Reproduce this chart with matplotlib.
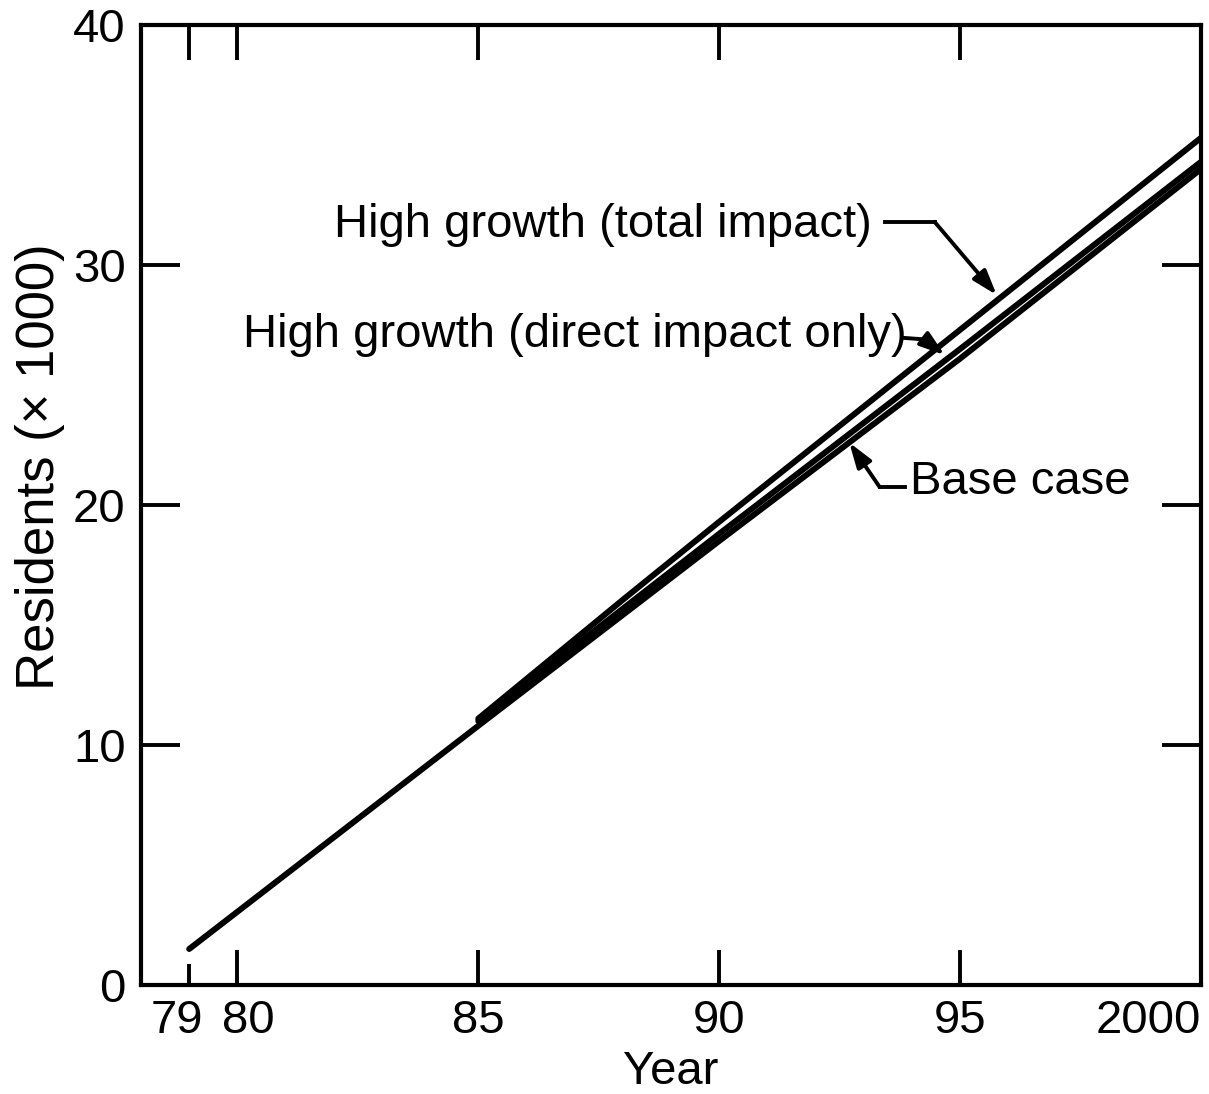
import matplotlib
matplotlib.use('Agg')
import matplotlib.pyplot as plt
import matplotlib.transforms as mtransforms

# data (year - 1900, residents x 1000)
base_years = [79, 85, 90, 95, 100]
base_vals = [1.5, 10.8, 18.5, 26.1, 34.0]

direct_years = [85, 90, 95, 100]
direct_vals = [11.0, 18.8, 26.5, 34.3]

total_years = [85, 88, 90, 95, 100]
total_vals = [11.1, 16.05, 19.3, 27.3, 35.3]

xticks = [79, 80, 85, 90, 95, 100]
xtick_labels = ['79', '80', '85', '90', '95', '2000']
yticks = [0, 10, 20, 30, 40]

plt.rcParams['font.family'] = ['Liberation Sans', 'DejaVu Sans']
FS = 34

fig = plt.figure(figsize=(12.09, 10.94), dpi=100)
ax = fig.add_axes([141 / 1209, 109 / 1094, 1060 / 1209, 960 / 1094])

lw = 4.3
for xs, ys in [(base_years, base_vals), (direct_years, direct_vals), (total_years, total_vals)]:
    ax.plot(xs, ys, color='black', lw=lw, solid_capstyle='round')

ax.set_xlim(78, 100)
ax.set_ylim(0, 40)

for sp in ax.spines.values():
    sp.set_linewidth(3)

ax.set_xticks(xticks)
ax.set_xticklabels(xtick_labels)
ax.set_yticks(yticks)
ax.tick_params(axis='x', direction='in', length=25, width=2.8, top=True,
               labelsize=FS, pad=10)
ax.tick_params(axis='y', direction='in', length=28, width=2.8, right=True,
               labelsize=FS, pad=11)

# the bottom 79 tick stops short of the line start
ax.xaxis.get_major_ticks()[0].tick1line.set_markersize(15)

# nudge crowded x labels like the original
labs = ax.get_xticklabels()
offsets = {'79': -12, '80': 11}
for lab in labs:
    t = lab.get_text()
    if t in offsets:
        lab.set_transform(lab.get_transform() +
                          mtransforms.ScaledTranslation(offsets[t] / 100, 0, fig.dpi_scale_trans))
    if t == '2000':
        lab.set_horizontalalignment('right')

ax.set_xlabel('Year', fontsize=FS, labelpad=5)
ax.set_ylabel('Residents (\u00d7 1000)', fontsize=38)
ax.yaxis.set_label_coords(-0.072, 0.54)

# annotations
ax.text(82.0, 31.67, 'High growth (total impact)', fontsize=FS, va='center', ha='left')
ax.text(80.12, 27.08, 'High growth (direct impact only)', fontsize=FS, va='center', ha='left')
ax.text(93.95, 20.96, 'Base case', fontsize=FS, va='center', ha='left')

arrows = [
    [(93.45, 31.8), (94.47, 31.8), (95.76, 28.75)],
    [(93.85, 26.96), (94.26, 26.9), (94.68, 26.25)],
    [(93.85, 20.75), (93.33, 20.75), (92.70, 22.6)],
]
for (p0, p1, p2) in arrows:
    ax.plot([p0[0], p1[0]], [p0[1], p1[1]], color='black', lw=2.8)
    ax.annotate('', xy=p2, xytext=p1,
                arrowprops=dict(arrowstyle='-|>,head_length=1.5,head_width=0.5',
                                color='black', lw=2.8, shrinkA=0, shrinkB=0))

fig.savefig('out.png', dpi=100)
